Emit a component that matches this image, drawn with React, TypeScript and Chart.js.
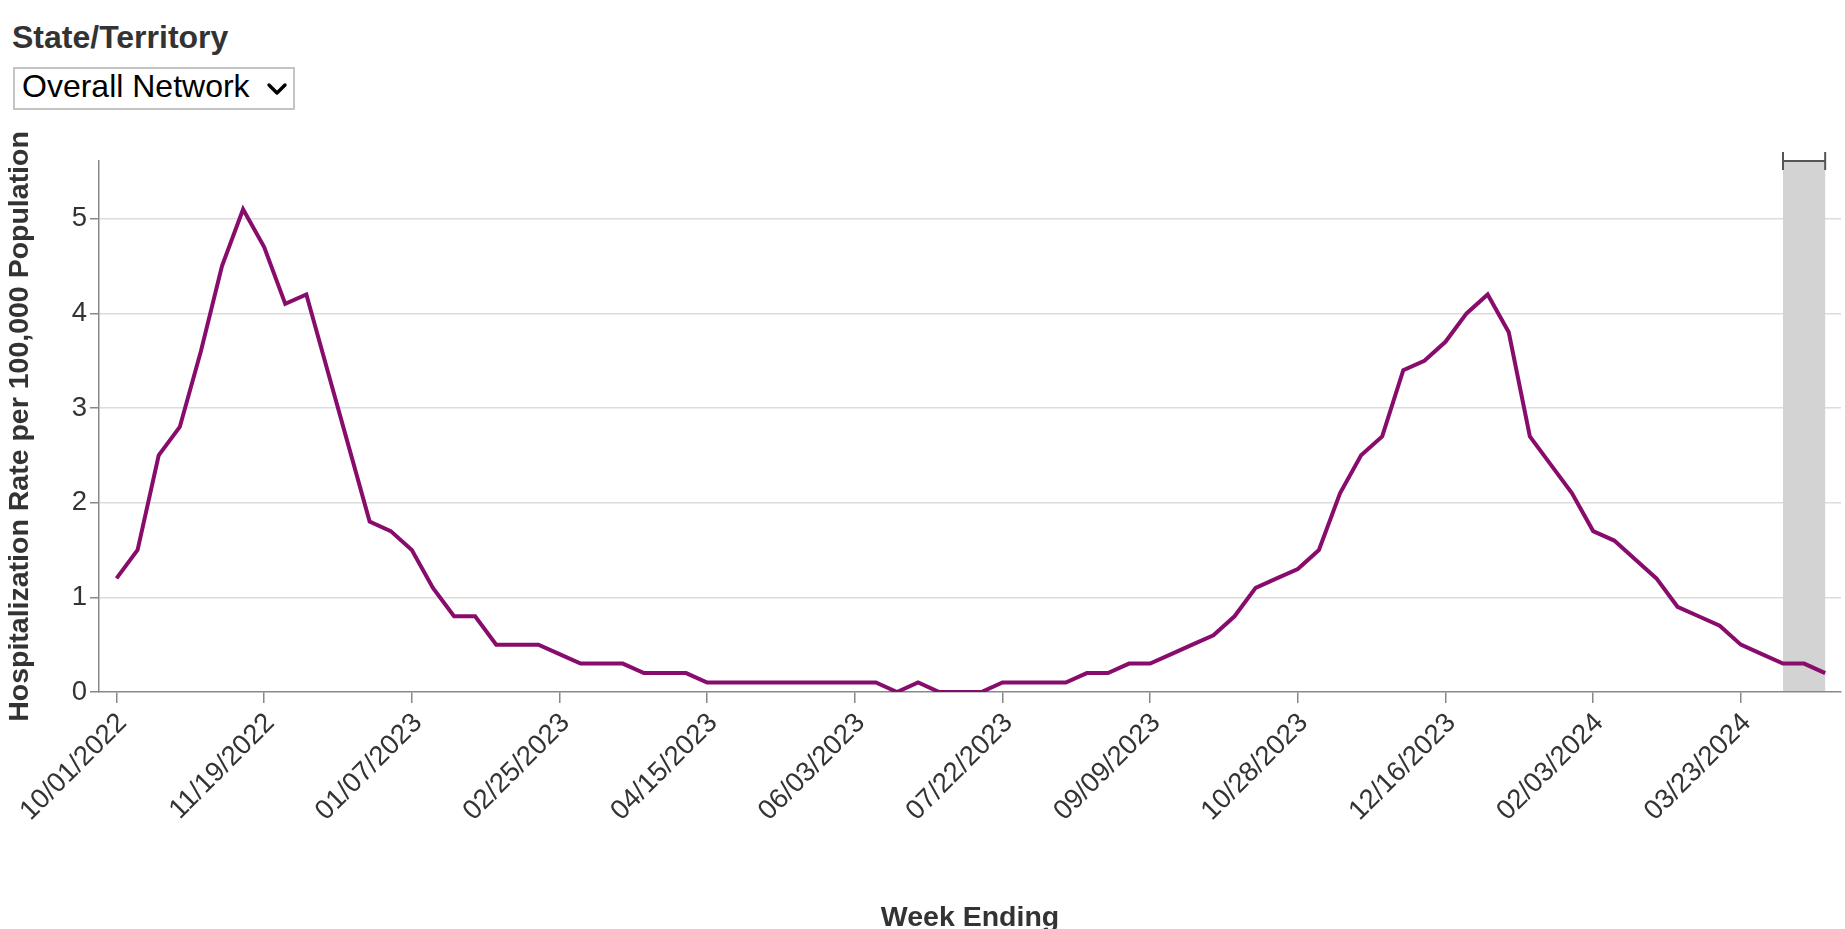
import React, { useEffect, useRef } from 'react';
import { Chart, registerables } from 'chart.js';

Chart.register(...registerables);

const FONT = '"Liberation Sans", Arial, Helvetica, sans-serif';

// Weekly hospitalization rate per 100,000 (week ending 10/01/2022 ... 04/20/2024)
const rates: number[] = [
  1.2, 1.5, 2.5, 2.8, 3.6, 4.5, 5.1, 4.7, 4.1, 4.2,
  3.4, 2.6, 1.8, 1.7, 1.5, 1.1, 0.8, 0.8, 0.5, 0.5,
  0.5, 0.4, 0.3, 0.3, 0.3, 0.2, 0.2, 0.2, 0.1, 0.1,
  0.1, 0.1, 0.1, 0.1, 0.1, 0.1, 0.1, 0.0, 0.1, 0.0,
  0.0, 0.0, 0.1, 0.1, 0.1, 0.1, 0.2, 0.2, 0.3, 0.3,
  0.4, 0.5, 0.6, 0.8, 1.1, 1.2, 1.3, 1.5, 2.1, 2.5,
  2.7, 3.4, 3.5, 3.7, 4.0, 4.2, 3.8, 2.7, 2.4, 2.1,
  1.7, 1.6, 1.4, 1.2, 0.9, 0.8, 0.7, 0.5, 0.4, 0.3,
  0.3, 0.2,
];

// x-axis tick labels, one every TICK_STEP weeks starting at week 0
const tickLabels: string[] = [
  '10/01/2022', '11/19/2022', '01/07/2023', '02/25/2023', '04/15/2023', '06/03/2023',
  '07/22/2023', '09/09/2023', '10/28/2023', '12/16/2023', '02/03/2024', '03/23/2024',
];
const TICK_STEP = 7;

// shaded (incomplete data) weeks, by week index
const shadedWeeks: number[] = [79, 81];

const Y_MAX = 5.61;
const X_MIN = -0.83;
const X_MAX = 81.75;

const bandPlugin = {
  id: 'incompleteBand',
  beforeDatasetsDraw(chart: any) {
    const { ctx, chartArea, scales } = chart;
    const x0 = scales.x.getPixelForValue(shadedWeeks[0]);
    const x1 = scales.x.getPixelForValue(shadedWeeks[1]);
    ctx.save();
    ctx.fillStyle = '#d3d3d3';
    ctx.fillRect(x0, chartArea.top, x1 - x0, chartArea.bottom - chartArea.top - 1);
    ctx.restore();
  },
  afterDatasetsDraw(chart: any) {
    const { ctx, chartArea, scales } = chart;
    const x0 = scales.x.getPixelForValue(shadedWeeks[0]);
    const x1 = scales.x.getPixelForValue(shadedWeeks[1]);
    const y = chartArea.top;
    ctx.save();
    ctx.strokeStyle = '#555';
    ctx.lineWidth = 2;
    ctx.beginPath();
    ctx.moveTo(x0, y);
    ctx.lineTo(x1, y);
    ctx.moveTo(x0, y - 9);
    ctx.lineTo(x0, y + 9);
    ctx.moveTo(x1, y - 9);
    ctx.lineTo(x1, y + 9);
    ctx.stroke();
    ctx.restore();
  },
};

export default function App() {
  const ref = useRef<HTMLCanvasElement>(null);

  useEffect(() => {
    if (!ref.current) return;
    const chart = new Chart(ref.current, {
      type: 'line',
      data: {
        datasets: [
          {
            data: rates.map((y, i) => ({ x: i, y })),
            borderColor: '#880C6C',
            borderWidth: 4,
            pointRadius: 0,
            tension: 0,
            fill: false,
          },
        ],
      },
      options: {
        responsive: false,
        animation: false,
        layout: { padding: { top: 31, right: 4, left: 0, bottom: 0 } },
        plugins: { legend: { display: false }, tooltip: { enabled: false } },
        scales: {
          x: {
            type: 'linear',
            min: X_MIN,
            max: X_MAX,
            afterBuildTicks: (scale: any) => {
              scale.ticks = tickLabels.map((_, i) => ({ value: i * TICK_STEP }));
            },
            afterFit: (scale: any) => {
              scale.height = 268;
            },
            grid: {
              drawOnChartArea: false,
              drawTicks: true,
              tickLength: 11,
              color: '#888',
              lineWidth: 1.5,
            },
            border: { display: true, color: '#888', width: 1.5 },
            ticks: {
              autoSkip: false,
              minRotation: 45,
              maxRotation: 45,
              padding: 4,
              labelOffset: 6,
              color: '#333',
              font: { family: FONT, size: 27.5 },
              callback: (_v: any, i: number) => tickLabels[i],
            },
            title: {
              display: true,
              text: 'Week Ending',
              color: '#333',
              font: { family: FONT, size: 28.5, weight: 'bold' },
              padding: { top: 0, bottom: 25 },
            },
          },
          y: {
            type: 'linear',
            min: 0,
            max: Y_MAX,
            afterFit: (scale: any) => {
              scale.width = 99;
            },
            ticks: {
              stepSize: 1,
              includeBounds: false,
              padding: 3,
              color: '#333',
              font: { family: FONT, size: 27.5 },
            },
            grid: {
              color: (c: any) => (c.tick && c.tick.value === 0 ? 'rgba(0,0,0,0)' : '#dcdcdc'),
              lineWidth: 1.5,
              tickColor: '#888',
              tickLength: 9,
            },
            border: { color: '#888', width: 1.5 },
            title: {
              display: true,
              text: 'Hospitalization Rate per 100,000 Population',
              color: '#333',
              font: { family: FONT, size: 28.5, weight: 'bold' },
              padding: { top: 3, bottom: 0 },
            },
          },
        },
      },
      plugins: [bandPlugin],
    } as any);
    return () => chart.destroy();
  }, []);

  return (
    <div
      style={{
        position: 'fixed',
        left: 0,
        top: 0,
        width: 1845,
        height: 929,
        overflow: 'hidden',
        background: '#fff',
        fontFamily: FONT,
      }}
    >
      <div
        style={{
          position: 'absolute',
          left: 12,
          top: 20,
          fontSize: 32,
          lineHeight: '34px',
          fontWeight: 'bold',
          color: '#333',
          whiteSpace: 'nowrap',
        }}
      >
        State/Territory
      </div>
      <div
        style={{
          position: 'absolute',
          left: 13,
          top: 67,
          width: 282,
          height: 43,
          boxSizing: 'border-box',
          border: '2px solid #c4c4c4',
          background: '#fff',
        }}
      >
        <span
          style={{
            position: 'absolute',
            left: 7,
            top: 2,
            fontSize: 32,
            lineHeight: '31px',
            color: '#000',
            whiteSpace: 'nowrap',
          }}
        >
          Overall Network
        </span>
        <svg
          width={22}
          height={16}
          style={{ position: 'absolute', left: 251, top: 12 }}
        >
          <polyline
            points="3,4 11,12 19,4"
            fill="none"
            stroke="#000"
            strokeWidth={3.4}
            strokeLinecap="round"
            strokeLinejoin="round"
          />
        </svg>
      </div>
      <canvas
        ref={ref}
        width={1845}
        height={830}
        style={{ position: 'absolute', left: 0, top: 130, width: 1845, height: 830 }}
      />
    </div>
  );
}
